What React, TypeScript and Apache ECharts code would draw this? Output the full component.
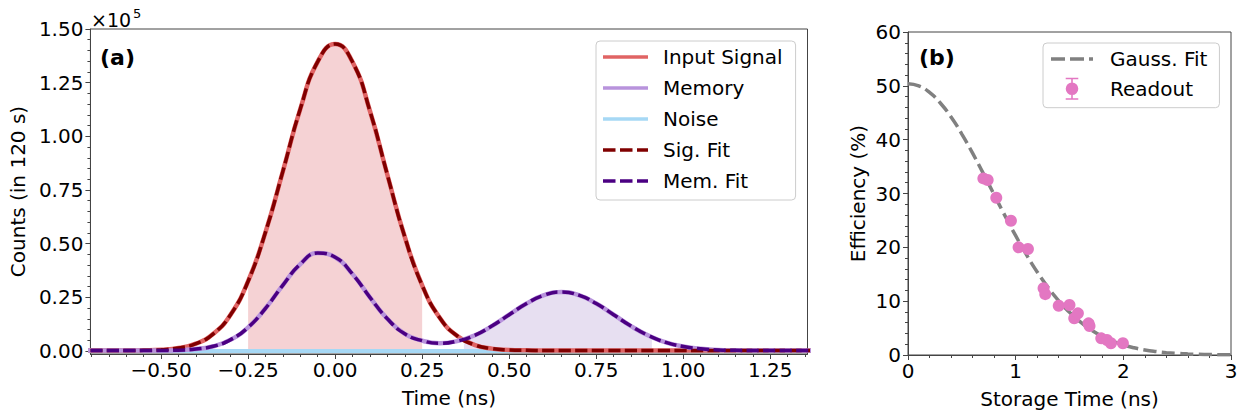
import React, { useEffect, useRef } from "react";
import * as echarts from "echarts";

const FONT = "DejaVu Sans";

// ---------- Panel (a) data ----------
const timeNs = [
  -0.75, -0.7, -0.65, -0.6, -0.55, -0.5, -0.45, -0.4, -0.35, -0.3, -0.25,
  -0.2, -0.15, -0.1, -0.05, 0.0, 0.05, 0.1, 0.15, 0.2, 0.25, 0.3, 0.35, 0.4,
  0.45, 0.5, 0.55, 0.6, 0.65, 0.7, 0.75, 0.8, 0.85, 0.9, 0.95, 1.0, 1.05, 1.1,
  1.15, 1.2, 1.25, 1.3, 1.35, 1.4,
];
const inputSignal = [
  200, 200, 200, 200, 300, 600, 1400, 3400, 8000, 17000, 32500, 55400, 83800,
  112800, 134800, 143000, 134600, 111800, 82100, 53200, 30600, 15600, 7100,
  2900, 1100, 500, 300, 200, 200, 200, 200, 200, 200, 200, 200, 200, 200, 200,
  200, 200, 200, 200, 200, 200,
];
const memoryCounts = [
  200, 200, 200, 200, 200, 250, 400, 900, 2200, 5300, 11000, 19900, 30700,
  40500, 45600, 43700, 35800, 25000, 15000, 8000, 4800, 3600, 4600, 7200,
  11600, 16900, 22100, 26000, 27500, 26000, 22100, 16900, 11600, 7200, 4000,
  2100, 1000, 500, 300, 200, 200, 200, 200, 200,
];
const noiseTime = [-0.75, -0.5, -0.25, 0, 0.25, 0.5, 0.75, 1.0, 1.25, 1.4];
const noiseCounts = [0, 0, 50, 50, 50, 0, 0, 0, 0, 0];
const sigFillRange = [-0.25, 0.25];
const memFillTime = [0.37, 0.4, 0.45, 0.5, 0.55, 0.6, 0.65, 0.7, 0.75, 0.8, 0.85, 0.9, 0.91];
const memFillCounts = [5400, 7200, 11600, 16900, 22100, 26000, 27500, 26000, 22100, 16900, 11600, 7200, 6500];

const xTicksA = [-0.5, -0.25, 0, 0.25, 0.5, 0.75, 1.0, 1.25];
const yTicksA = [0, 25000, 50000, 75000, 100000, 125000, 150000];

// ---------- Panel (b) data ----------
const storageTime = [
  0.7, 0.74, 0.82, 0.956, 1.027, 1.114, 1.259, 1.275, 1.4, 1.5, 1.544, 1.578,
  1.677, 1.686, 1.795, 1.848, 1.885, 1.996,
];
const efficiency = [
  32.8, 32.5, 29.2, 24.95, 20.0, 19.7, 12.4, 11.3, 9.16, 9.29, 6.81, 7.74,
  5.88, 5.39, 3.09, 2.79, 2.17, 2.17,
];
const fitTime = [
  0, 0.1, 0.2, 0.3, 0.4, 0.5, 0.6, 0.7, 0.8, 0.9, 1.0, 1.1, 1.2, 1.3, 1.4, 1.5,
  1.6, 1.7, 1.8, 1.9, 2.0, 2.1, 2.2, 2.3, 2.4, 2.5, 2.6, 2.7, 2.8, 2.9, 3.0,
];
const fitEff = [
  50.4, 49.99, 48.77, 46.81, 44.19, 41.04, 37.49, 33.69, 29.79, 25.9, 22.16,
  18.64, 15.43, 12.57, 10.07, 7.93, 6.15, 4.69, 3.52, 2.6, 1.88, 1.34, 0.94,
  0.65, 0.44, 0.3, 0.2, 0.13, 0.08, 0.05, 0.03,
];

const C_SIG = "#e06464";
const C_MEM = "#b893dc";
const C_NOISE = "#a6d8f5";
const C_SIGFIT = "#800000";
const C_MEMFIT = "#4b0082";
const C_GAUSS = "#808080";
const C_READ = "#e377c2";

const ICON_SOLID = "path://M0 0H45V3.5H0Z";
const ICON_DASH = "path://M0 0H12.5V3.5H0Z M17 0H29.5V3.5H17Z M34 0H45V3.5H34Z";
const ICON_DASH2 = "path://M0 0H14V3.5H0Z M19 0H33V3.5H19Z M38 0H42V3.5H38Z";
const ICON_ERR =
  "path://M5.25 0H6.75V21H5.25Z M0 0H12V1.5H0Z M0 19.5H12V21H0Z M0 10.5A6 6 0 1 1 12 10.5A6 6 0 1 1 0 10.5Z";

export default function App() {
  const ref = useRef<HTMLDivElement>(null);
  useEffect(() => {
    if (!ref.current) return;
    const chart = echarts.init(ref.current, null, { renderer: "svg" });

    const pairs = (xs: number[], ys: number[]) => xs.map((x, i) => [x, ys[i]]);
    const sigFill = pairs(timeNs, inputSignal).filter(
      ([t]) => t >= sigFillRange[0] - 1e-9 && t <= sigFillRange[1] + 1e-9
    );

    const xMinorA: number[] = [];
    for (let k = -14; k <= 27; k++) if (k % 5 !== 0) xMinorA.push(Math.round(k * 5) / 100);
    const yMinorA: number[] = [];
    for (let k = 0; k <= 30; k++) if (k % 5 !== 0) yMinorA.push(k * 5000);

    const axisLine = { color: "#444", width: 1 };
    const lbl = { fontSize: 20, fontFamily: FONT, color: "#000" };
    const fmtX = (v: number) =>
      (v < -1e-9 ? "\u2212" : "") + Math.abs(v).toFixed(2);

    const xMin = -0.703;
    const xMax = 1.357;
    const yMin = -1400;
    const yMax = 150000;

    const option: any = {
      animation: false,
      backgroundColor: "#fff",
      grid: [
        { left: 89, top: 29, width: 718.5, height: 325, show: true, borderColor: "#444", borderWidth: 1, backgroundColor: "transparent", containLabel: false },
        { left: 908, top: 32, width: 323, height: 323, show: true, borderColor: "#444", borderWidth: 1, backgroundColor: "transparent", containLabel: false },
      ],
      xAxis: [
        {
          gridIndex: 0, type: "value", min: xMin, max: xMax, position: "bottom",
          axisLine: { show: true, onZero: false, lineStyle: axisLine },
          axisTick: { show: true, customValues: xTicksA, length: 5, lineStyle: axisLine },
          axisLabel: { customValues: xTicksA, formatter: fmtX, margin: 6, ...lbl },
          splitLine: { show: false },
          name: "Time (ns)", nameLocation: "middle", nameGap: 34, nameTextStyle: lbl,
        },
        {
          gridIndex: 0, type: "value", min: xMin, max: xMax, position: "bottom",
          axisLine: { show: false, onZero: false },
          axisTick: { show: true, customValues: xMinorA, length: 3, lineStyle: axisLine },
          axisLabel: { show: false },
          splitLine: { show: false },
        },
        {
          gridIndex: 1, type: "value", min: 0, max: 3, interval: 1, position: "bottom",
          axisLine: { show: true, onZero: false, lineStyle: axisLine },
          axisTick: { show: true, length: 5, lineStyle: axisLine },
          minorTick: { show: true, splitNumber: 5, length: 3, lineStyle: axisLine },
          axisLabel: { margin: 6, formatter: (v: number) => String(v), ...lbl },
          splitLine: { show: false },
          minorSplitLine: { show: false },
          name: "Storage Time (ns)", nameLocation: "middle", nameGap: 34, nameTextStyle: lbl,
        },
      ],
      yAxis: [
        {
          gridIndex: 0, type: "value", min: yMin, max: yMax, position: "left",
          axisLine: { show: true, onZero: false, lineStyle: axisLine },
          axisTick: { show: true, customValues: yTicksA, length: 5, lineStyle: axisLine },
          axisLabel: { customValues: yTicksA, formatter: (v: number) => (v / 1e5).toFixed(2), margin: 7, ...lbl },
          splitLine: { show: false },
          name: "Counts (in 120 s)", nameLocation: "middle", nameGap: 57, nameTextStyle: lbl,
        },
        {
          gridIndex: 0, type: "value", min: yMin, max: yMax, position: "left",
          axisLine: { show: false, onZero: false },
          axisTick: { show: true, customValues: yMinorA, length: 3, lineStyle: axisLine },
          axisLabel: { show: false },
          splitLine: { show: false },
        },
        {
          gridIndex: 1, type: "value", min: 0, max: 60, interval: 10, position: "left",
          axisLine: { show: true, onZero: false, lineStyle: axisLine },
          axisTick: { show: true, length: 5, lineStyle: axisLine },
          minorTick: { show: true, splitNumber: 5, length: 3, lineStyle: axisLine },
          axisLabel: { margin: 7, ...lbl },
          splitLine: { show: false },
          minorSplitLine: { show: false },
          name: "Efficiency (%)", nameLocation: "middle", nameGap: 40, nameTextStyle: lbl,
        },
      ],
      legend: [
        {
          orient: "vertical", left: 596, top: 41,
          itemWidth: 45, itemHeight: 14, itemGap: 11,
          padding: [6, 13, 9, 7],
          borderColor: "#cccccc", borderWidth: 1, borderRadius: 4,
          backgroundColor: "rgba(255,255,255,0.8)",
          selectedMode: false,
          itemStyle: { borderWidth: 0, borderColor: "transparent" },
          textStyle: { ...lbl, lineHeight: 20, padding: [0, 0, 0, 10] },
          data: [
            { name: "Input Signal", icon: ICON_SOLID },
            { name: "Memory", icon: ICON_SOLID },
            { name: "Noise", icon: ICON_SOLID },
            { name: "Sig. Fit", icon: ICON_DASH },
            { name: "Mem. Fit", icon: ICON_DASH },
          ],
        },
        {
          orient: "vertical", left: 1043, top: 43,
          itemWidth: 42, itemHeight: 22, itemGap: 8.7,
          padding: [6, 12, 8, 8],
          borderColor: "#cccccc", borderWidth: 1, borderRadius: 4,
          backgroundColor: "rgba(255,255,255,0.8)",
          selectedMode: false,
          itemStyle: { borderWidth: 0, borderColor: "transparent" },
          textStyle: { ...lbl, lineHeight: 20, padding: [0, 0, 0, 12] },
          data: [
            { name: "Gauss. Fit", icon: ICON_DASH2 },
            { name: "Readout", icon: ICON_ERR },
          ],
        },
      ],
      graphic: [
        { type: "text", x: 91, y: 20, style: { text: "\u00d710", fontSize: 19, fontFamily: FONT, fill: "#000", textAlign: "left", textVerticalAlign: "middle" } },
        { type: "text", x: 133, y: 13, style: { text: "5", fontSize: 13, fontFamily: FONT, fill: "#000", textAlign: "left", textVerticalAlign: "middle" } },
        { type: "text", x: 100, y: 57, style: { text: "(a)", fontSize: 22, fontWeight: "bold", fontFamily: FONT, fill: "#000", textAlign: "left", textVerticalAlign: "middle" } },
        { type: "text", x: 919, y: 57, style: { text: "(b)", fontSize: 22, fontWeight: "bold", fontFamily: FONT, fill: "#000", textAlign: "left", textVerticalAlign: "middle" } },
      ],
      series: [
        {
          name: "signal-fill", type: "line", xAxisIndex: 0, yAxisIndex: 0,
          data: sigFill, smooth: true, symbol: "none", silent: true, z: 1,
          lineStyle: { width: 0, opacity: 0 },
          areaStyle: { color: "#f5d2d4", opacity: 1 },
        },
        {
          name: "memory-fill", type: "line", xAxisIndex: 0, yAxisIndex: 0,
          data: pairs(memFillTime, memFillCounts), smooth: true, symbol: "none", silent: true, z: 1,
          lineStyle: { width: 0, opacity: 0 },
          areaStyle: { color: "#e7dff1", opacity: 1 },
        },
        {
          name: "Noise", type: "line", xAxisIndex: 0, yAxisIndex: 0, color: C_NOISE,
          data: pairs(noiseTime, noiseCounts), symbol: "none", z: 2,
          lineStyle: { color: C_NOISE, width: 4 },
        },
        {
          name: "Input Signal", type: "line", xAxisIndex: 0, yAxisIndex: 0, color: C_SIG,
          data: pairs(timeNs, inputSignal), smooth: true, symbol: "none", z: 3,
          lineStyle: { color: C_SIG, width: 4.5 },
        },
        {
          name: "Memory", type: "line", xAxisIndex: 0, yAxisIndex: 0, color: C_MEM,
          data: pairs(timeNs, memoryCounts), smooth: true, symbol: "none", z: 3,
          lineStyle: { color: C_MEM, width: 4.5 },
        },
        {
          name: "Sig. Fit", type: "line", xAxisIndex: 0, yAxisIndex: 0, color: C_SIGFIT,
          data: pairs(timeNs, inputSignal), smooth: true, symbol: "none", z: 4,
          lineStyle: { color: C_SIGFIT, width: 3.5, type: [12, 4.5] },
        },
        {
          name: "Mem. Fit", type: "line", xAxisIndex: 0, yAxisIndex: 0, color: C_MEMFIT,
          data: pairs(timeNs, memoryCounts), smooth: true, symbol: "none", z: 5,
          lineStyle: { color: C_MEMFIT, width: 3.5, type: [12, 4.5] },
        },
        {
          name: "Gauss. Fit", type: "line", xAxisIndex: 2, yAxisIndex: 2, color: C_GAUSS,
          data: pairs(fitTime, fitEff), smooth: true, symbol: "none", z: 3,
          lineStyle: { color: C_GAUSS, width: 3.5, type: [13, 5.5] },
        },
        {
          name: "Readout", type: "scatter", xAxisIndex: 2, yAxisIndex: 2, color: C_READ,
          data: pairs(storageTime, efficiency), symbol: "circle", symbolSize: 12, z: 4,
          itemStyle: { color: C_READ, opacity: 1 },
        },
      ],
    };
    chart.setOption(option);
    return () => chart.dispose();
  }, []);

  return (
    <div
      ref={ref}
      style={{ position: "fixed", left: 0, top: 0, width: 1248, height: 416, background: "#fff" }}
    />
  );
}
